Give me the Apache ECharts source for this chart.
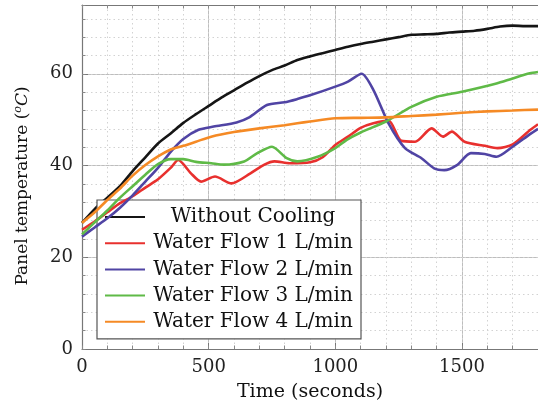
<!DOCTYPE html>
<html>
<head>
<meta charset="utf-8">
<script src="https://cdn.jsdelivr.net/npm/echarts@6/dist/echarts.min.js"></script>
<style>
html,body{margin:0;padding:0;background:#fff;}
#chart{width:538px;height:409px;}
</style>
</head>
<body>
<div id="chart"></div>
<script>
// ---- data ----
var seriesNames = ['Without Cooling', 'Water Flow 1 L/min', 'Water Flow 2 L/min', 'Water Flow 3 L/min', 'Water Flow 4 L/min'];
var xTickLabels = ['0', '500', '1000', '1500'];
var yTickLabels = ['0', '20', '40', '60'];

var noCoolTime = [0,50,100,150,200,250,300,350,400,450,500,550,600,650,700,750,800,850,900,950,1000,1050,1100,1150,1200,1250,1300,1350,1400,1450,1500,1550,1600,1650,1700,1750,1800];
var noCoolTemp = [27.5,30.5,33,35.5,38.8,41.8,44.8,47,49.3,51.2,53,54.8,56.4,58,59.5,60.8,61.8,63,63.8,64.5,65.2,65.9,66.5,67,67.5,68,68.5,68.6,68.7,69,69.2,69.4,69.8,70.3,70.5,70.4,70.4];

var flow1Time = [0,50,100,150,200,250,300,350,380,430,470,525,590,665,720,760,820,900,950,1000,1050,1100,1150,1210,1260,1315,1380,1425,1460,1510,1590,1640,1700,1770,1800];
var flow1Temp = [26,27.8,29.8,31.8,33.3,35.2,37,39.5,41.2,38.3,36.5,37.6,36.1,38.3,40.2,40.9,40.5,40.7,41.8,44.5,46.3,48.2,49.2,49.8,45.4,45.2,48.1,46.3,47.4,45.2,44.3,43.8,44.6,47.8,49];

var flow2Time = [0,50,100,150,200,250,300,350,400,460,520,610,660,730,800,850,900,1000,1050,1104,1150,1210,1275,1340,1390,1430,1480,1535,1590,1636,1700,1770,1800];
var flow2Temp = [24.5,26.5,28.5,30.8,33.5,36.5,39.5,43,45.8,47.8,48.5,49.4,50.5,53.2,53.8,54.5,55.3,57.2,58.3,60,56.5,49.2,43.8,41.6,39.4,39,40.1,42.7,42.5,41.9,44.1,46.9,48];

var flow3Time = [0,50,100,150,200,250,300,350,400,450,510,560,640,692,750,808,850,930,1000,1045,1100,1200,1300,1400,1500,1636,1700,1768,1800];
var flow3Temp = [25,27.6,30.2,33,35.5,38,40.3,41.4,41.4,40.8,40.5,40.2,40.9,42.7,44.1,41.6,40.9,41.9,43.8,45.6,47.2,49.6,52.8,55,56.1,57.9,59,60.1,60.4];

var flow4Time = [0,50,100,150,200,250,300,350,400,450,510,600,700,800,850,900,1000,1100,1200,1300,1400,1500,1600,1700,1800];
var flow4Temp = [27.5,29.8,32.5,35,37.8,40.1,42,43.5,44.3,45.2,46.3,47.3,48.1,48.8,49.2,49.6,50.3,50.4,50.5,50.8,51.1,51.5,51.8,52,52.2];

var colors = ['#151515', '#e8302e', '#5044a4', '#5fba47', '#f58a25'];

function pairs(t, v) { return t.map(function (x, i) { return [x, v[i]]; }); }
var allData = [pairs(noCoolTime, noCoolTemp), pairs(flow1Time, flow1Temp), pairs(flow2Time, flow2Temp), pairs(flow3Time, flow3Temp), pairs(flow4Time, flow4Temp)];

var FONT = 'DejaVu Serif';
var chart = echarts.init(document.getElementById('chart'), null, { renderer: 'canvas' });

var option = {
  animation: false,
  backgroundColor: '#fff',
  grid: { left: 82, right: -7, top: 5, bottom: 60, containLabel: false },
  legend: {
    orient: 'vertical',
    left: 97, top: 200,
    padding: [7, 5, 7, 8],
    itemGap: 6.2,
    itemWidth: 40, itemHeight: 2,
    icon: 'rect',
    backgroundColor: '#fff',
    borderColor: '#555',
    borderWidth: 1.2,
    borderRadius: 0,
    data: seriesNames,
    formatter: function (n) { return '{c|' + n + '}'; },
    textStyle: {
      fontFamily: FONT, fontSize: 20, color: '#111', lineHeight: 20,
      rich: { c: { width: 206, align: 'center', fontFamily: FONT, fontSize: 20, color: '#111', lineHeight: 20 } }
    }
  },
  xAxis: [
    {
      type: 'value', min: 0, max: 1800, interval: 500, position: 'bottom',
      name: 'Time (seconds)', nameLocation: 'middle', nameGap: 34,
      nameTextStyle: { fontFamily: FONT, fontSize: 19, color: '#111' },
      axisLine: { show: true, lineStyle: { color: '#777', width: 1.2 } },
      axisTick: { show: true, inside: true, length: 6, lineStyle: { color: '#777' } },
      axisLabel: {
        show: true, margin: 9, fontFamily: FONT, fontSize: 18, color: '#222', showMaxLabel: false,
        formatter: function (v) { var i = v / 500; return (i === Math.round(i) && xTickLabels[i] !== undefined) ? xTickLabels[i] : ''; }
      },
      splitLine: { show: true, lineStyle: { color: '#bdbdbd', width: 1, type: 'solid' } }
    },
    {
      type: 'value', min: 0, max: 1800, interval: 100, position: 'bottom',
      axisLine: { show: false },
      axisTick: { show: true, inside: true, length: 3.5, lineStyle: { color: '#888' } },
      axisLabel: { show: false },
      splitLine: { show: true, lineStyle: { color: '#d2d2d2', width: 1, type: [1.5, 3] } }
    },
    {
      type: 'value', min: 0, max: 1800, interval: 100, position: 'top',
      axisLine: { show: true, lineStyle: { color: '#777', width: 1.2 } },
      axisTick: { show: true, inside: true, length: 3.5, lineStyle: { color: '#888' } },
      axisLabel: { show: false },
      splitLine: { show: false }
    }
  ],
  yAxis: [
    {
      type: 'value', min: 0, max: 75, interval: 20, position: 'left',
      name: 'Panel temperature ({s|o}{i|C})', nameLocation: 'middle', nameGap: 49, nameRotate: 90,
      nameTextStyle: {
        fontFamily: FONT, fontSize: 17, color: '#111', padding: [0, 18, 0, 0],
        rich: {
          s: { fontFamily: FONT, fontSize: 11, fontStyle: 'italic', color: '#111', verticalAlign: 'top', lineHeight: 20 },
          i: { fontFamily: FONT, fontSize: 17, fontStyle: 'italic', color: '#111', lineHeight: 20 }
        }
      },
      axisLine: { show: true, lineStyle: { color: '#777', width: 1.2 } },
      axisTick: { show: true, inside: true, length: 6, lineStyle: { color: '#777' } },
      axisLabel: {
        show: true, margin: 9, fontFamily: FONT, fontSize: 18, color: '#222', showMaxLabel: false,
        formatter: function (v) { var i = v / 20; return (i === Math.round(i) && yTickLabels[i] !== undefined) ? yTickLabels[i] : ''; }
      },
      splitLine: { show: true, lineStyle: { color: '#bdbdbd', width: 1, type: 'solid' } }
    },
    {
      type: 'value', min: 0, max: 75, interval: 4, position: 'left',
      axisLine: { show: false },
      axisTick: { show: true, inside: true, length: 3.5, lineStyle: { color: '#888' } },
      axisLabel: { show: false },
      splitLine: { show: true, lineStyle: { color: '#d2d2d2', width: 1, type: [1.5, 3] } }
    }
  ],
  series: seriesNames.map(function (n, i) {
    return {
      name: n, type: 'line', xAxisIndex: 0, yAxisIndex: 0,
      data: allData[i], symbol: 'none', smooth: 0.25,
      color: colors[i],
      lineStyle: { color: colors[i], width: 2.6 },
      z: 3 + i,
      clip: true
    };
  })
};
chart.setOption(option);
</script>
</body>
</html>
